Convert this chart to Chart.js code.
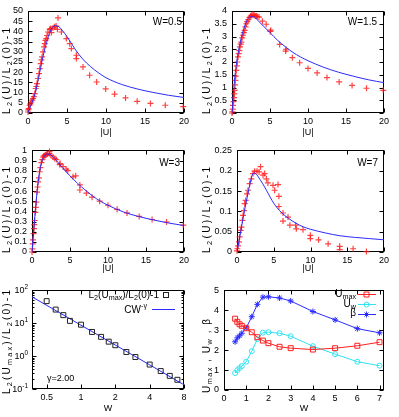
<!DOCTYPE html>
<html>
<head>
<meta charset="utf-8">
<title>L2 peak vs U and W</title>
<script src="https://cdn.jsdelivr.net/npm/chart.js@4.4.1/dist/chart.umd.min.js"></script>
<style>
  body { margin: 0; background: #fff; }
  #wrap { position: relative; width: 399px; height: 417px; overflow: hidden; }
  canvas { position: absolute; }
</style>
</head>
<body>
<div id="wrap">
  <canvas id="p1"></canvas>
  <canvas id="p2"></canvas>
  <canvas id="p3"></canvas>
  <canvas id="p4"></canvas>
  <canvas id="p5"></canvas>
  <canvas id="p6"></canvas>
  <canvas id="overlay" width="399" height="417"></canvas>
</div>
<script>
// ---- values ----
// W = 0.5
const u05 = [0, 0.03, 0.09, 0.2, 0.3, 0.43, 0.55, 0.64, 0.75, 0.86, 0.99, 1.08, 1.15, 1.28, 1.41, 1.5, 1.63, 1.72, 1.8, 1.92, 2.05, 2.15, 2.23, 2.35, 2.45, 2.56, 2.78, 2.9, 3.0, 3.2, 3.4, 3.6, 3.77, 3.85, 4.28, 4.92, 5.35, 5.56, 6.2, 6.2, 7.05, 7.9, 8.8, 9.96, 11.1, 12.5, 14.0, 15.7, 17.6, 19.9];
const l05 = [0.5, 1.5, 2.1, 3.8, 4.5, 5.4, 6.3, 7.1, 8.0, 9.5, 12, 13, 14.4, 16.9, 19.3, 21.8, 24.2, 26, 27.5, 30, 32.4, 34, 35.6, 36.5, 38, 39.7, 41, 41.4, 39.4, 41.7, 42.3, 42.6, 41, 46.6, 39.7, 36.5, 34, 31.6, 28.3, 26.7, 22.6, 18.5, 15.2, 11.8, 9.3, 7.4, 5.7, 4.7, 3.8, 3.1];
const fitU05 = [0, 0.5, 1, 1.5, 2, 2.5, 3, 3.5, 4, 4.5, 5, 6, 7, 8, 9, 10, 12, 14, 16, 18, 20];
const fitL05 = [0, 5, 11, 20, 29, 36, 41.2, 42.8, 42.2, 40, 37.5, 31.5, 26.5, 22.8, 19.8, 17.3, 14, 11.8, 10.1, 8.7, 7.6];

// W = 1.5
const u15 = [0, 0.05, 0.1, 0.13, 0.2, 0.26, 0.3, 0.35, 0.4, 0.44, 0.5, 0.57, 0.63, 0.7, 0.8, 0.88, 0.96, 1.05, 1.15, 1.23, 1.35, 1.45, 1.55, 1.67, 1.78, 1.89, 2.0, 2.15, 2.3, 2.46, 2.6, 2.76, 2.9, 3.05, 3.2, 3.35, 3.55, 4.0, 4.5, 5.04, 5.1, 6.27, 7.06, 7.1, 7.94, 8.9, 10, 11.2, 12.5, 14.1, 15.8, 17.7, 19.9];
const l15 = [0, 0.05, 0.15, 0.3, 0.45, 0.6, 0.75, 0.89, 1.1, 1.28, 1.45, 1.67, 1.85, 2.0, 2.2, 2.33, 2.45, 2.59, 2.7, 2.78, 2.95, 3.05, 3.15, 3.24, 3.38, 3.5, 3.58, 3.66, 3.75, 3.8, 3.83, 3.87, 3.84, 3.8, 3.8, 3.78, 3.76, 3.6, 3.48, 3.2, 3.25, 2.69, 2.43, 2.5, 2.17, 1.97, 1.75, 1.57, 1.39, 1.22, 1.08, 0.97, 0.89];
const fitU15 = [0, 0.25, 0.5, 1, 1.5, 2, 2.5, 3, 3.5, 4, 5, 6, 7, 8, 9, 10, 12, 14, 16, 18, 20];
const fitL15 = [0, 1.0, 1.75, 2.65, 3.25, 3.65, 3.78, 3.75, 3.6, 3.45, 3.15, 2.85, 2.6, 2.38, 2.2, 2.05, 1.8, 1.6, 1.44, 1.3, 1.19];

// W = 3
const u3 = [0, 0.05, 0.1, 0.13, 0.2, 0.26, 0.3, 0.35, 0.44, 0.5, 0.57, 0.66, 0.73, 0.8, 0.92, 1.0, 1.1, 1.23, 1.36, 1.45, 1.55, 1.67, 1.8, 1.9, 2.05, 2.3, 2.3, 2.5, 2.76, 3.0, 3.2, 3.64, 3.7, 4.1, 4.5, 4.7, 5.4, 5.75, 6.3, 6.3, 7.15, 7.9, 8.9, 10, 11.2, 12.5, 14.1, 15.8, 17.7, 19.9];
const l3 = [0, 0.03, 0.08, 0.12, 0.18, 0.23, 0.27, 0.31, 0.39, 0.44, 0.49, 0.59, 0.64, 0.69, 0.73, 0.79, 0.83, 0.88, 0.91, 0.935, 0.945, 0.95, 0.955, 0.96, 0.965, 0.99, 0.97, 0.95, 0.935, 0.92, 0.91, 0.86, 0.87, 0.84, 0.815, 0.8, 0.74, 0.75, 0.66, 0.61, 0.58, 0.54, 0.5, 0.46, 0.42, 0.385, 0.35, 0.32, 0.295, 0.265];
const fitU3 = [0, 0.25, 0.5, 0.75, 1, 1.25, 1.5, 2, 2.5, 3, 3.5, 4, 5, 6, 7, 8, 9, 10, 12, 14, 16, 18, 20];
const fitL3 = [0, 0.24, 0.46, 0.65, 0.79, 0.88, 0.93, 0.965, 0.955, 0.92, 0.875, 0.83, 0.75, 0.675, 0.61, 0.55, 0.5, 0.46, 0.395, 0.35, 0.315, 0.285, 0.26];

// W = 7
const u7 = [0, 0.05, 0.14, 0.27, 0.36, 0.5, 0.6, 0.73, 0.82, 0.95, 1.04, 1.18, 1.36, 1.5, 1.72, 1.95, 2.18, 2.4, 2.72, 3.0, 3.2, 3.54, 3.76, 4.0, 4.2, 4.9, 5.12, 5.58, 5.7, 5.7, 6.26, 6.26, 6.94, 7.2, 7.98, 8.07, 8.98, 9.98, 9.98, 11.1, 12.4, 13.97, 13.97, 15.8, 17.6];
const l7 = [0.003, 0.008, 0.015, 0.025, 0.037, 0.053, 0.061, 0.078, 0.09, 0.102, 0.119, 0.127, 0.143, 0.152, 0.168, 0.18, 0.193, 0.199, 0.199, 0.197, 0.21, 0.189, 0.193, 0.18, 0.17, 0.164, 0.152, 0.166, 0.137, 0.112, 0.096, 0.076, 0.086, 0.066, 0.066, 0.057, 0.055, 0.041, 0.033, 0.03, 0.02, 0.014, 0.006, 0.008, 0.001];
const fitU7 = [0, 0.5, 1, 1.5, 2, 2.3, 2.7, 3, 3.5, 4, 5, 6, 7, 8, 9, 10, 12, 14, 16, 18, 20];
const fitL7 = [0, 0.05, 0.1, 0.145, 0.185, 0.195, 0.19, 0.182, 0.168, 0.152, 0.12, 0.098, 0.083, 0.071, 0.062, 0.056, 0.047, 0.04, 0.036, 0.033, 0.030];

// peak height vs W (log-log) and power-law fit
const wVals = [0.5, 0.6, 0.7, 0.8, 1, 1.25, 1.5, 1.75, 2, 2.5, 3, 4, 5, 6, 7];
const peakL2 = [46, 25.5, 17.3, 11.6, 8.9, 5.35, 3.8, 2.72, 2.12, 1.32, 0.93, 0.55, 0.35, 0.25, 0.19];
const fitW = [0.372, 1, 2, 4, 8];
const fitCW = [62, 8.6, 2.15, 0.54, 0.134];

// Umax, Uw, beta vs W
const uMax = [3.58, 3.42, 3.3, 3.22, 3.1, 2.9, 2.65, 2.48, 2.35, 2.17, 2.1, 2.03, 2.1, 2.22, 2.4];
const uW = [0.85, 1.0, 1.1, 1.2, 1.42, 1.95, 2.55, 2.88, 2.9, 2.85, 2.7, 2.2, 1.8, 1.42, 1.22];
const beta = [2.42, 2.62, 2.72, 2.85, 3.12, 3.68, 4.3, 4.66, 4.68, 4.62, 4.47, 3.94, 3.52, 3.08, 2.87];

const logXTicks = [0.5, 1, 2, 4, 8];
const logYTicks = [0.1, 1, 10, 100];
const wTicks = [0, 1, 2, 3, 4, 5, 6, 7];

const FONT = '"Liberation Sans", Arial, sans-serif';
const RED = 'rgba(255,20,20,0.8)';
const BLUE = '#2b2bff';
const CYAN = '#2fe3f0';

function pts(xs, ys) {
    return xs.map((x, i) => ({ x: x, y: ys[i] }));
}

// text with sub/superscripts, optionally stretched to a given span
function drawRich(ctx, parts, x, y, o) {
    o = o || {};
    const size = o.size || 9;
    const chars = [];
    parts.forEach(p => { for (const ch of p[0]) chars.push([ch, p[1] || '']); });
    const fnt = m => (m ? size * 0.72 : size) + 'px ' + FONT;
    let nat = 0;
    chars.forEach(c => { ctx.font = fnt(c[1]); c.push(ctx.measureText(c[0]).width); nat += c[2]; });
    const gap = o.span ? (o.span - nat) / Math.max(chars.length - 1, 1) : 0;
    const total = nat + gap * (chars.length - 1);
    ctx.save();
    ctx.translate(x, y);
    if (o.rot) ctx.rotate(o.rot);
    let cx = o.align === 'right' ? -total : o.align === 'left' ? 0 : -total / 2;
    ctx.fillStyle = '#000';
    ctx.textBaseline = 'middle';
    ctx.textAlign = 'left';
    chars.forEach(c => {
        ctx.font = fnt(c[1]);
        const dy = c[1] === 'sub' ? size * 0.3 : c[1] === 'sup' ? -size * 0.38 : 0;
        ctx.fillText(c[0], cx, dy);
        cx += c[2] + gap;
    });
    ctx.restore();
}

// gnuplot style border with inward ticks on all four sides
const framePlugin = {
    id: 'frame',
    beforeDatasetsDraw(chart, args, o) {
        const ctx = chart.ctx, a = chart.chartArea;
        const xs = chart.scales.x, ys = chart.scales.y;
        const L = Math.round(a.left) + 0.5, R = Math.round(a.right) - 0.5;
        const T = Math.round(a.top) + 0.5, B = Math.round(a.bottom) - 0.5;
        ctx.save();
        ctx.strokeStyle = '#000';
        ctx.lineWidth = 1;
        ctx.beginPath();
        xs.ticks.forEach(t => {
            const p = Math.round(xs.getPixelForValue(t.value)) + 0.5;
            ctx.moveTo(p, B); ctx.lineTo(p, B - 4);
            ctx.moveTo(p, T); ctx.lineTo(p, T + 4);
        });
        const yt = ys.ticks.map(t => [t.value, 4]).concat((o.yMinor || []).map(v => [v, 2]));
        yt.forEach(([v, len]) => {
            const p = Math.round(ys.getPixelForValue(v)) + 0.5;
            ctx.moveTo(L, p); ctx.lineTo(L + len, p);
            ctx.moveTo(R, p); ctx.lineTo(R - len, p);
        });
        ctx.stroke();
        ctx.strokeRect(L, T, R - L, B - T);
        ctx.restore();
    },
    afterDraw(chart, args, o) {
        if (!o.logLabels) return;
        const ys = chart.scales.y;
        ys.ticks.forEach(t => {
            const e = Math.round(Math.log10(t.value));
            drawRich(chart.ctx, [['10'], [String(e), 'sup']], ys.right - 4, ys.getPixelForValue(t.value) + 1, { align: 'right' });
        });
    }
};

function axis(kind, o, fit) {
    return {
        type: o.log ? 'logarithmic' : 'linear',
        min: o.min,
        max: o.max,
        grid: { display: false, drawTicks: false },
        border: { display: false },
        afterFit: fit,
        afterBuildTicks: o.list ? s => { s.ticks = o.list.map(v => ({ value: v })); } : undefined,
        ticks: {
            display: !o.hide,
            stepSize: o.step,
            padding: kind === 'x' ? 3 : 5,
            maxRotation: 0,
            autoSkip: false,
            color: '#000',
            font: { family: FONT, size: 9 },
            callback: o.list ? v => String(v) : undefined
        }
    };
}

function panel(id, cell, plot, xo, yo, datasets, frameOpts) {
    const cv = document.getElementById(id);
    cv.width = cell.w;
    cv.height = cell.h;
    cv.style.left = cell.x + 'px';
    cv.style.top = cell.y + 'px';
    return new Chart(cv, {
        type: 'scatter',
        data: { datasets: datasets },
        options: {
            responsive: false,
            animation: false,
            events: [],
            layout: { padding: { top: plot.t - cell.y, right: cell.x + cell.w - plot.r, left: 0, bottom: 0 } },
            plugins: { legend: { display: false }, tooltip: { enabled: false }, frame: frameOpts || {} },
            scales: {
                x: axis('x', xo, s => { s.height = cell.y + cell.h - plot.b; }),
                y: axis('y', yo, s => { s.width = plot.l - cell.x; })
            }
        },
        plugins: [framePlugin]
    });
}

function crosses(xs, ys) {
    return { data: pts(xs, ys), pointStyle: 'cross', pointRadius: 3, borderColor: RED, borderWidth: 1.2, showLine: false, clip: 5, order: 1 };
}
function curve(xs, ys) {
    return { data: pts(xs, ys), showLine: true, pointRadius: 0, borderColor: BLUE, borderWidth: 1, cubicInterpolationMode: 'monotone', order: 0 };
}

const uAxis = { min: 0, max: 20, step: 5 };

panel('p1', { x: 0, y: 0, w: 200, h: 140 }, { l: 28, r: 184, t: 11, b: 113 },
    uAxis, { min: 0, max: 50, step: 5 },
    [crosses(u05, l05), curve(fitU05, fitL05)]);
panel('p2', { x: 200, y: 0, w: 199, h: 140 }, { l: 232, r: 384, t: 11, b: 113 },
    uAxis, { min: 0, max: 4, step: 0.5 },
    [crosses(u15, l15), curve(fitU15, fitL15)]);
panel('p3', { x: 0, y: 140, w: 200, h: 140 }, { l: 32, r: 184, t: 149, b: 252 },
    uAxis, { min: 0, max: 1, step: 0.1 },
    [crosses(u3, l3), curve(fitU3, fitL3)]);
panel('p4', { x: 200, y: 140, w: 199, h: 140 }, { l: 237, r: 384, t: 149, b: 252 },
    uAxis, { min: 0, max: 0.25, step: 0.05 },
    [crosses(u7, l7), curve(fitU7, fitL7)]);

const yMinor = [];
[0.1, 1, 10].forEach(d => { for (let k = 2; k <= 9; k++) yMinor.push(d * k); });

panel('p5', { x: 0, y: 280, w: 200, h: 137 }, { l: 32, r: 184, t: 290, b: 389 },
    { log: true, min: 0.372, max: 8, list: logXTicks },
    { log: true, min: 0.1, max: 100, list: logYTicks, hide: true },
    [
        { data: pts(wVals, peakL2), pointStyle: 'rect', pointRadius: 3.5, borderColor: '#222', backgroundColor: 'rgba(0,0,0,0)', borderWidth: 1, showLine: false, clip: 5, order: 0 },
        { data: pts(fitW, fitCW), showLine: true, pointRadius: 0, borderColor: BLUE, borderWidth: 1, order: 1 }
    ],
    { yMinor: yMinor, logLabels: true });

function series(ys, color, style, r) {
    return { data: pts(wVals, ys), showLine: true, borderColor: color, borderWidth: 1, pointStyle: style, pointRadius: r, pointBorderColor: color, pointBackgroundColor: style === 'star' ? color : 'rgba(0,0,0,0)', pointBorderWidth: 1, clip: 5 };
}

panel('p6', { x: 200, y: 280, w: 199, h: 137 }, { l: 224, r: 384, t: 290, b: 390 },
    { min: 0, max: 7.2, list: wTicks }, { min: 0, max: 5, step: 1 },
    [series(uMax, '#ff2020', 'rect', 3.5), series(uW, CYAN, 'circle', 2.5), series(beta, BLUE, 'star', 3)]);

// ---- labels, keys ----
const ov = document.getElementById('overlay').getContext('2d');
const ROT = -Math.PI / 2;
const yLab = [['L'], ['2', 'sub'], ['(U)/L'], ['2', 'sub'], ['(0)-1']];
const yLab5 = [['L'], ['2', 'sub'], ['(U'], ['max', 'sub'], [')/L'], ['2', 'sub'], ['(0)-1']];
const yLab6 = [['U'], ['max', 'sub'], [' , U'], ['w', 'sub'], [' , β']];

drawRich(ov, [['W=0.5']], 182, 22, { align: 'right', size: 10 });
drawRich(ov, [['W=1.5']], 377, 22, { align: 'right', size: 10 });
drawRich(ov, [['W=3']], 180, 163, { align: 'right', size: 10 });
drawRich(ov, [['W=7']], 378, 163, { align: 'right', size: 10 });

drawRich(ov, [['|U|']], 106, 133);
drawRich(ov, [['|U|']], 308, 133);
drawRich(ov, [['|U|']], 108, 269);
drawRich(ov, [['|U|']], 308, 269);
drawRich(ov, [['W']], 108, 409);
drawRich(ov, [['W']], 304, 409);

drawRich(ov, yLab, 7, 71, { rot: ROT, span: 86, size: 10 });
drawRich(ov, yLab, 207, 71, { rot: ROT, span: 86, size: 10 });
drawRich(ov, yLab, 7, 210, { rot: ROT, span: 86, size: 10 });
drawRich(ov, yLab, 207, 210, { rot: ROT, span: 86, size: 10 });
drawRich(ov, yLab5, 7, 342, { rot: ROT, span: 104, size: 10 });
drawRich(ov, yLab6, 207, 356, { rot: ROT, span: 74, size: 10 });

// key of the log-log panel
drawRich(ov, yLab5, 159, 295, { align: 'right', size: 10 });
drawRich(ov, [['CW'], ['-γ', 'sup']], 147, 310, { align: 'right', size: 10 });
drawRich(ov, [['γ=2.00']], 47, 379, { align: 'left' });
ov.lineWidth = 1;
ov.strokeStyle = '#222';
ov.strokeRect(163.5, 292.5, 5, 5);
ov.strokeStyle = BLUE;
ov.beginPath(); ov.moveTo(152, 309.5); ov.lineTo(175, 309.5); ov.stroke();

// key of the Umax / Uw / beta panel
const keyRows = [
    { parts: [['U'], ['max', 'sub']], y: 294, color: '#ff2020', mark: 'rect' },
    { parts: [['U'], ['w', 'sub']], y: 304, color: CYAN, mark: 'circle' },
    { parts: [['β']], y: 313.5, color: BLUE, mark: 'star' }
];
keyRows.forEach(k => {
    drawRich(ov, k.parts, 356, k.y, { align: 'right', size: 10 });
    const yy = Math.round(k.y) + 0.5, cx = 366.5;
    ov.strokeStyle = k.color;
    ov.beginPath(); ov.moveTo(358, yy); ov.lineTo(376, yy); ov.stroke();
    ov.beginPath();
    if (k.mark === 'rect') ov.rect(cx - 2.5, yy - 2.5, 5, 5);
    else if (k.mark === 'circle') ov.arc(cx, yy, 2.5, 0, Math.PI * 2);
    else {
        ov.moveTo(cx - 3, yy); ov.lineTo(cx + 3, yy); ov.moveTo(cx, yy - 3); ov.lineTo(cx, yy + 3);
        ov.moveTo(cx - 2, yy - 2); ov.lineTo(cx + 2, yy + 2); ov.moveTo(cx - 2, yy + 2); ov.lineTo(cx + 2, yy - 2);
    }
    ov.stroke();
});
</script>
</body>
</html>
